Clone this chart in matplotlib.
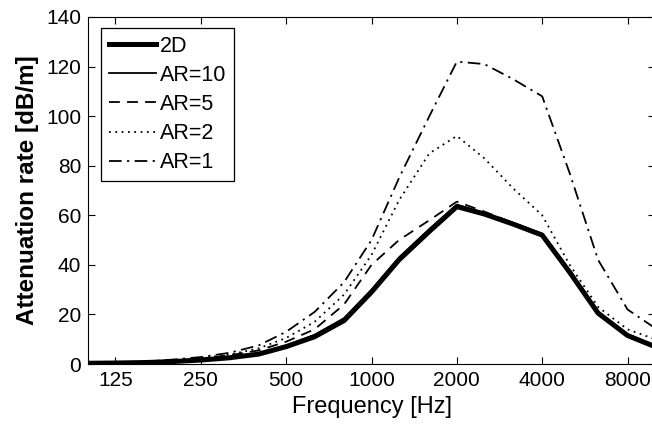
import numpy as np
import matplotlib
matplotlib.use('Agg')
import matplotlib.pyplot as plt

# third-octave band centre frequencies [Hz]
freq = [100, 125, 160, 200, 250, 315, 400, 500, 630, 800, 1000,
        1250, 1600, 2000, 2500, 3150, 4000, 5000, 6300, 8000, 10000]

# attenuation rate [dB/m]
att_2d = [0.3, 0.4, 0.6, 1.0, 1.6, 2.5, 4.0, 7.0, 11.0, 17.5, 29.0,
          42.0, 53.5, 63.5, 60.5, 56.5, 52.0, 37.0, 20.5, 11.5, 7.0]
att_ar10 = [0.4, 0.5, 0.7, 1.1, 1.8, 2.8, 4.4, 7.5, 11.8, 18.5, 30.0,
            43.0, 54.5, 64.3, 61.0, 57.0, 52.5, 37.5, 20.8, 11.8, 7.3]
att_ar5 = [0.4, 0.5, 0.8, 1.3, 2.2, 3.5, 5.5, 9.0, 14.0, 24.0, 40.0,
           50.0, 58.0, 65.5, 61.5, 57.0, 52.5, 38.0, 21.0, 12.0, 7.5]
att_ar2 = [0.4, 0.6, 0.9, 1.5, 2.4, 3.8, 6.3, 10.5, 17.0, 28.0, 44.0,
           66.0, 85.0, 92.0, 83.0, 71.0, 60.0, 40.0, 23.0, 14.0, 10.0]
att_ar1 = [0.5, 0.7, 1.0, 1.8, 2.8, 4.5, 7.5, 13.0, 21.0, 33.0, 50.0,
           75.0, 100.0, 122.0, 121.0, 115.0, 108.0, 77.0, 42.0, 22.0, 14.5]

xticks = [125, 250, 500, 1000, 2000, 4000, 8000]
xtick_labels = ['125', '250', '500', '1000', '2000', '4000', '8000']
yticks = [0, 20, 40, 60, 80, 100, 120, 140]

plt.rcParams['font.family'] = ['Liberation Sans', 'DejaVu Sans']

fig = plt.figure(figsize=(6.52, 4.24), dpi=100)
ax = fig.add_axes([88 / 652, 60 / 424, 567 / 652, 347 / 424])

ax.plot(freq, att_2d, color='black', lw=3.6, label='2D')
ax.plot(freq, att_ar10, color='black', lw=1.3, label='AR=10')
ax.plot(freq, att_ar5, color='black', lw=1.3, dashes=(6, 4), label='AR=5')
ax.plot(freq, att_ar2, color='black', lw=1.3, dashes=(1, 2.5), label='AR=2')
ax.plot(freq, att_ar1, color='black', lw=1.3, dashes=(7, 3, 1.2, 3), label='AR=1')

ax.set_xscale('log')
ax.set_xlim(100, 10000)
ax.set_ylim(0, 140)
ax.set_xticks(xticks)
ax.set_xticklabels(xtick_labels)
ax.minorticks_off()
ax.set_yticks(yticks)
ax.tick_params(direction='in', top=True, right=True, labelsize=15, length=5, width=0.8, pad=5)

ax.set_xlabel('Frequency [Hz]', fontsize=17, labelpad=4)
ax.set_ylabel('Attenuation rate [dB/m]', fontsize=17.5, fontweight='bold', labelpad=5)

leg = ax.legend(loc='upper left', bbox_to_anchor=(0.023, 0.968), borderaxespad=0,
                fontsize=15.5, fancybox=False, edgecolor='black', framealpha=1,
                handlelength=2.2, handletextpad=0.2, labelspacing=0.38,
                borderpad=0.35)
leg.get_frame().set_linewidth(0.9)

fig.savefig('out.png', dpi=100)
